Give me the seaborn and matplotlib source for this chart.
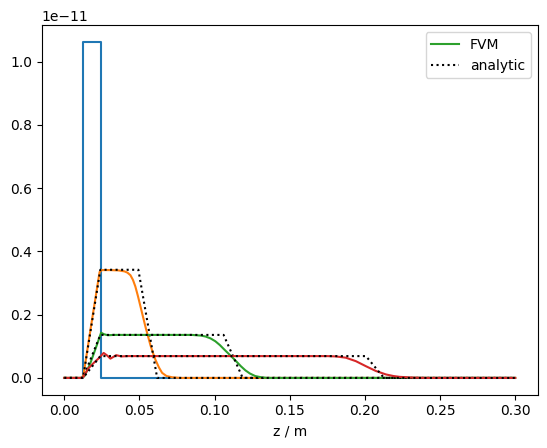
import matplotlib
matplotlib.use("Agg")
import matplotlib.pyplot as plt
import seaborn as sns
import numpy as np

SCALE = 1e-11

# initial pulse (t0)
z_t0 = [0.0, 0.0125, 0.0125, 0.0242, 0.0242, 0.30]
c_t0 = [0.0, 0.0, 1.0625, 1.0625, 0.0, 0.0]

# FVM, time 1 (orange)
z_f1 = [0.0, 0.0118, 0.0128, 0.018, 0.0235, 0.025, 0.030, 0.036, 0.040, 0.042,
        0.044, 0.0457, 0.0473, 0.049, 0.0507, 0.054, 0.0573, 0.059, 0.0607,
        0.063, 0.0651, 0.068, 0.0718, 0.0773, 0.30]
c_f1 = [0.0, 0.0, 0.010, 0.170, 0.335, 0.341, 0.341, 0.340, 0.337, 0.333,
        0.325, 0.310, 0.289, 0.259, 0.226, 0.162, 0.104, 0.079, 0.057,
        0.033, 0.016, 0.006, 0.002, 0.0, 0.0]
# analytic, time 1
z_a1 = [0.0, 0.0125, 0.0240, 0.0493, 0.0618, 0.30]
c_a1 = [0.0, 0.0, 0.342, 0.342, 0.0, 0.0]

# FVM, time 2 (green)
z_f2 = [0.0, 0.0118, 0.0135, 0.0173, 0.021, 0.0245, 0.0265, 0.029, 0.033, 0.085,
        0.0907, 0.094, 0.0973, 0.1005, 0.1035, 0.1062, 0.109, 0.1118, 0.1145,
        0.1175, 0.1205, 0.1235, 0.127, 0.131, 0.1351, 0.30]
c_f2 = [0.0, 0.0, 0.006, 0.046, 0.095, 0.143, 0.138, 0.135, 0.136, 0.136,
        0.134, 0.131, 0.125, 0.116, 0.104, 0.091, 0.078, 0.065, 0.052,
        0.037, 0.024, 0.014, 0.006, 0.002, 0.0, 0.0]
# analytic, time 2
z_a2 = [0.0, 0.0125, 0.0240, 0.1060, 0.1187, 0.30]
c_a2 = [0.0, 0.0, 0.136, 0.136, 0.0, 0.0]

# FVM, time 3 (red)
z_f3 = [0.0, 0.0118, 0.0125, 0.0162, 0.0195, 0.0229, 0.0262, 0.0285, 0.0307, 0.0325,
        0.0345, 0.038, 0.042, 0.175, 0.1807, 0.1873, 0.194, 0.2007, 0.2073,
        0.214, 0.219, 0.2229, 0.2318, 0.240, 0.30]
c_f3 = [0.0, 0.0, 0.002, 0.031, 0.047, 0.062, 0.079, 0.071, 0.061, 0.066,
        0.072, 0.068, 0.069, 0.069, 0.068, 0.064, 0.053, 0.037, 0.022,
        0.011, 0.006, 0.0035, 0.001, 0.0, 0.0]
# analytic, time 3
z_a3 = [0.0, 0.0125, 0.0240, 0.2007, 0.2127, 0.30]
c_a3 = [0.0, 0.0, 0.069, 0.069, 0.0, 0.0]

fig, ax = plt.subplots(figsize=(6.4, 4.8), dpi=100)

def line(z, c, **kw):
    sns.lineplot(x=np.array(z), y=np.array(c) * SCALE, estimator=None, sort=False,
                 ax=ax, **kw)

line(z_t0, c_t0, color="C0")
line(z_f1, c_f1, color="C1")
line(z_a1, c_a1, color="k", linestyle=":")
line(z_f2, c_f2, color="C2", label="FVM")
line(z_a2, c_a2, color="k", linestyle=":", label="analytic")
line(z_f3, c_f3, color="C3")
line(z_a3, c_a3, color="k", linestyle=":")

ax.set_xlabel("z / m")
ax.set_ylabel("")
ax.legend(loc="upper right")

fig.savefig("out.png", dpi=100, bbox_inches="tight")
